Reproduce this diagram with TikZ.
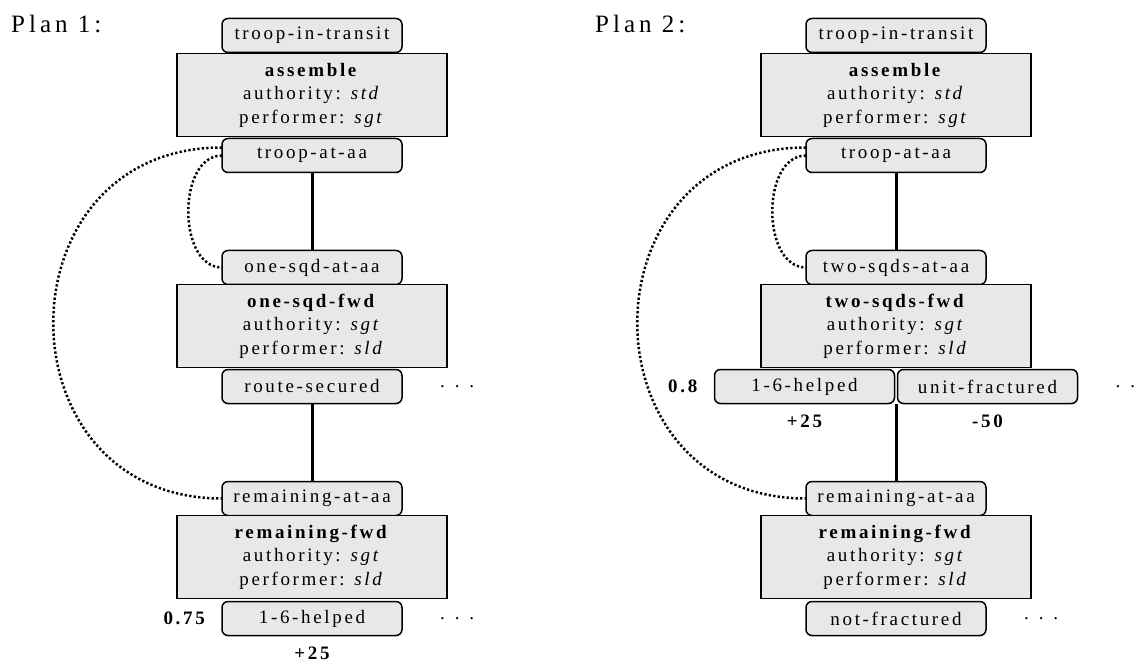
\documentclass[tikz,border=0pt]{standalone}
\usepackage{fontspec}
\usepackage{tikz}
\usetikzlibrary{calc,positioning}
\newfontfamily\boxfamily[LetterSpace=14]{Liberation Serif}
\newfontfamily\titlefamily[LetterSpace=16]{Liberation Serif}
\newcommand\boxfont{\boxfamily\fontsize{19}{23.5}\selectfont}
\newcommand\titlefont{\titlefamily\fontsize{25}{28}\selectfont}
\definecolor{boxgray}{gray}{0.91}
\newdimen\hdim
\newdimen\wdim
\newdimen\Hdim
\newdimen\Wdim
\newdimen\odim
\hdim=34pt
\wdim=180pt
\Hdim=83pt
\Wdim=270pt
\odim=78pt
\tikzstyle{condition}=[
  draw=black,
  fill=boxgray,
  font=\boxfont,
  inner sep=0pt,
  line width=1.5pt,
  minimum height=\hdim,
  minimum width=\wdim,
  outer sep=0pt,
  rectangle,
  rounded corners=6pt,
  text centered,
]
\tikzstyle{action}=[
  draw=black,
  fill=boxgray,
  font=\boxfont,
  inner sep=0pt,
  line width=1.5pt,
  minimum height=\Hdim,
  minimum width=\Wdim,
  outer sep=0pt,
  rectangle,
  align=center,
]
\tikzstyle{link}=[
  color=black,
  line width=3pt,
]
\tikzstyle{protect}=[
  color=black,
  line width=2.5pt,
  dash pattern=on 2.3pt off 2.2pt,
]
\tikzstyle{utility}=[
  font={\boxfont\bfseries},
  inner sep=2pt,
]
\tikzstyle{more}=[
  font=\boxfont,
  inner sep=0pt,
]
\tikzstyle{plan}=[
  font=\titlefont,
  anchor=base west,
  inner sep=0pt,
]
\tikzset{
  x=1pt,
  y=-1pt,
}
\begin{document}
\begin{tikzpicture}
      \useasboundingbox (0,0) rectangle (1144,663);
      %% Plan 1
      \node (plan1) [plan] at (11,33) {Plan 1:};
      \node (transit1) [condition] at (312,35.5) {troop-in-transit};
      \node (assemble1) [action, below=1pt of transit1]
        {\textbf{assemble}\\authority: \textit{std}\\performer: \textit{sgt}};
      \node (troopaa1) [condition, below=2pt of assemble1] {troop-at-aa};
      \node (sqdaa1) [condition, below=\odim of troopaa1] {one-sqd-at-aa};
      \node (sqdfwd1) [action, below=0pt of sqdaa1]
        {\textbf{one-sqd-fwd}\\authority: \textit{sgt}\\performer: \textit{sld}};
      \node (secured1) [condition, below=2pt of sqdfwd1] {route-secured};
      \node (more1) [more, right=38pt of secured1] {. . .};
      \node (remaa1) [condition, below=\odim of secured1] {remaining-at-aa};
      \node (remfwd1) [action, below=0pt of remaa1]
        {\textbf{remaining-fwd}\\authority: \textit{sgt}\\performer: \textit{sld}};
      \node (helped1) [condition, below=3pt of remfwd1] {1-6-helped};
      \node (prob1) [utility, left=15pt of helped1] {0.75};
      \node (gain1) [utility, below=9pt of helped1] {+25};
      \node (more2) [more, right=38pt of helped1] {. . .};
      %%
      \draw [link] (troopaa1) -- (sqdaa1);
      \draw [link] (secured1) -- (remaa1);
      \draw [protect] ([yshift=8pt]troopaa1.west)
        .. controls +(-225,0) and +(-225,0) .. (remaa1.west);
      \draw [protect] (troopaa1.west)
        .. controls +(-45,0) and +(-45,0) .. (sqdaa1.west);
      %% Plan 2
      \node (plan2) [plan] at (595,33) {Plan 2:};
      \node (transit2) [condition] at (896,35.5) {troop-in-transit};
      \node (assemble2) [action, below=1pt of transit2]
        {\textbf{assemble}\\authority: \textit{std}\\performer: \textit{sgt}};
      \node (troopaa2) [condition, below=2pt of assemble2] {troop-at-aa};
      \node (sqdsaa2) [condition, below=\odim of troopaa2] {two-sqds-at-aa};
      \node (sqdsfwd2) [action, below=0pt of sqdsaa2]
        {\textbf{two-sqds-fwd}\\authority: \textit{sgt}\\performer: \textit{sld}};
      \node (helped2) [condition, below left=2pt and 1.5pt of sqdsfwd2.south] {1-6-helped};
      \node (fractured2) [condition, below right=2pt and 1.5pt of sqdsfwd2.south] {unit-fractured};
      \node (prob2) [utility, left=15pt of helped2] {0.8};
      \node (gain2) [utility, below=9pt of helped2] {+25};
      \node (loss2) [utility, below=9pt of fractured2] {-50};
      \node (more3) [more, right=38pt of fractured2] {. . .};
      \node (remaa2) [condition] at (troopaa2|-remaa1) {remaining-at-aa};
      \node (remfwd2) [action, below=0pt of remaa2]
        {\textbf{remaining-fwd}\\authority: \textit{sgt}\\performer: \textit{sld}};
      \node (notfrac2) [condition, below=3pt of remfwd2] {not-fractured};
      \node (more4) [more, right=38pt of notfrac2] {. . .};
      %%
      \coordinate (split2) at ($(helped2.south east)!.5!(fractured2.south west)$);
      \draw [link] (troopaa2) -- (sqdsaa2);
      \draw [link] (split2) -- (split2|-remaa2.north);
      \draw [protect] ([yshift=8pt]troopaa2.west)
        .. controls +(-225,0) and +(-225,0) .. (remaa2.west);
      \draw [protect] (troopaa2.west)
        .. controls +(-45,0) and +(-45,0) .. (sqdsaa2.west);
    \end{tikzpicture}
\end{document}
